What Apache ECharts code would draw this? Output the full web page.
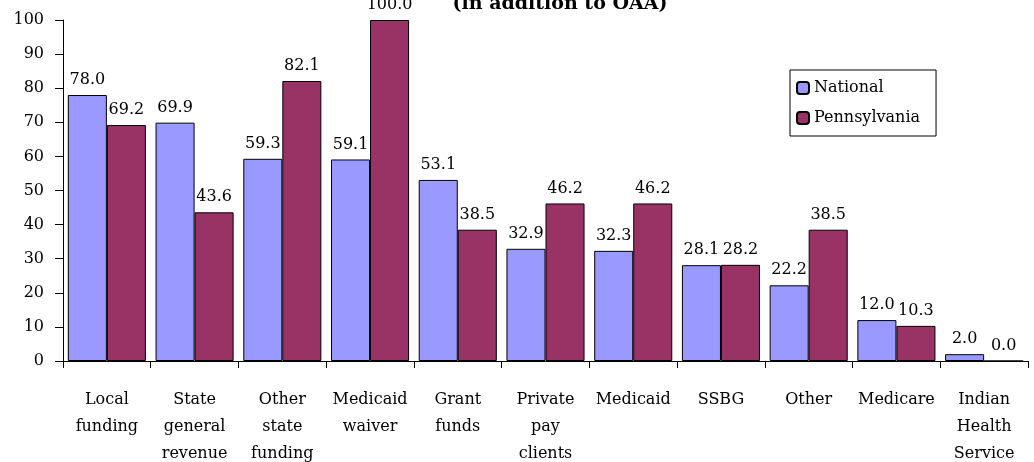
<!DOCTYPE html>
<html>
<head>
<meta charset="utf-8">
<script src="https://cdn.jsdelivr.net/npm/echarts@6/dist/echarts.min.js"></script>
<style>
  html, body { margin: 0; padding: 0; background: #fff; }
  #chart { width: 1034px; height: 462px; }
</style>
</head>
<body>
<div id="chart"></div>
<script>
const categories = [
  'Local\nfunding', 'State\ngeneral\nrevenue', 'Other\nstate\nfunding', 'Medicaid\nwaiver',
  'Grant\nfunds', 'Private\npay\nclients', 'Medicaid', 'SSBG', 'Other', 'Medicare',
  'Indian\nHealth\nService'
]
const national = [78.0, 69.9, 59.3, 59.1, 53.1, 32.9, 32.3, 28.1, 22.2, 12.0, 2.0]
const pennsylvania = [69.2, 43.6, 82.1, 100.0, 38.5, 46.2, 46.2, 28.2, 38.5, 10.3, 0.0]

const FONT = "'DejaVu Serif', 'Liberation Serif', serif"

const chart = echarts.init(document.getElementById('chart'))
const labelStyle = {
  show: true,
  position: 'top',
  distance: 7,
  fontFamily: FONT,
  fontSize: 16,
  color: '#000',
  formatter: (p) => p.value.toFixed(1)
}
chart.setOption({
  animation: false,
  title: {
    text: '(in addition to OAA)',
    left: 555,
    textAlign: 'center',
    top: -10,
    textStyle: { fontFamily: FONT, fontSize: 19, fontWeight: 'bold', color: '#000' }
  },
  legend: {
    orient: 'vertical',
    left: 790,
    top: 70,
    padding: [10, 16, 10, 6],
    itemGap: 14,
    itemWidth: 12,
    itemHeight: 12,
    borderColor: '#000',
    borderWidth: 1,
    textStyle: { fontFamily: FONT, fontSize: 16, color: '#000' },
    data: ['National', 'Pennsylvania']
  },
  grid: { left: 63, right: 6, top: 20, bottom: 101, outerBoundsMode: 'none', containLabel: false },
  xAxis: {
    type: 'category',
    data: categories,
    axisLine: { lineStyle: { color: '#000' } },
    axisTick: { show: true, length: 7, lineStyle: { color: '#000' } },
    axisLabel: {
      interval: 0,
      margin: 25,
      fontFamily: FONT,
      fontSize: 16,
      lineHeight: 27,
      color: '#000'
    }
  },
  yAxis: {
    type: 'value',
    min: 0,
    max: 100,
    interval: 10,
    splitLine: { show: false },
    axisLine: { show: true, lineStyle: { color: '#000' } },
    axisTick: { show: true, length: 8, lineStyle: { color: '#000' } },
    axisLabel: { margin: 19, fontFamily: FONT, fontSize: 16, color: '#000' }
  },
  series: [
    {
      name: 'National',
      type: 'bar',
      data: national,
      barGap: '0%',
      barCategoryGap: '11%',
      itemStyle: { color: '#9999FF', borderColor: '#000', borderWidth: 1 },
      label: labelStyle
    },
    {
      name: 'Pennsylvania',
      type: 'bar',
      data: pennsylvania,
      itemStyle: { color: '#993366', borderColor: '#000', borderWidth: 1 },
      label: labelStyle
    }
  ]
})
</script>
</body>
</html>
